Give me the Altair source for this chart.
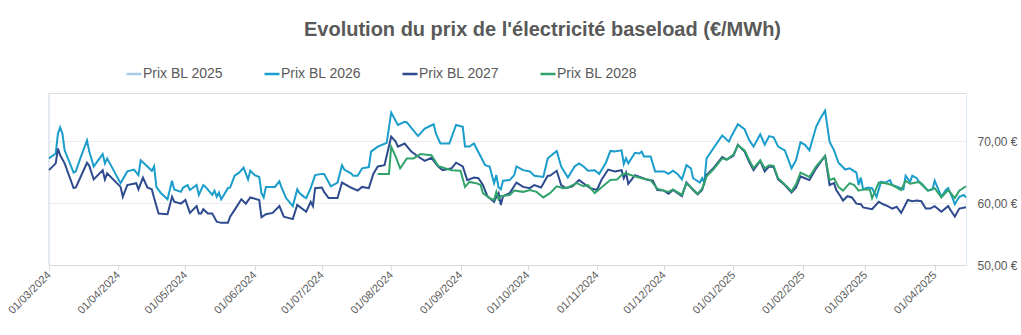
import altair as alt
import pandas as pd

series_names = ["Prix BL 2025", "Prix BL 2026", "Prix BL 2027", "Prix BL 2028"]
series_colors = ["#a9cce9", "#1a9dcb", "#2e4b8f", "#33a36c"]

# Prix BL 2026 (€/MWh)
dates_2026 = ["2024-03-01","2024-03-04","2024-03-05","2024-03-06","2024-03-07","2024-03-08","2024-03-12","2024-03-13","2024-03-15","2024-03-18","2024-03-19","2024-03-21","2024-03-22","2024-03-25","2024-03-26","2024-03-27","2024-04-02","2024-04-05","2024-04-08","2024-04-10","2024-04-11","2024-04-14","2024-04-16","2024-04-17","2024-04-18","2024-04-20","2024-04-23","2024-04-25","2024-04-26","2024-04-29","2024-04-30","2024-05-02","2024-05-03","2024-05-06","2024-05-07","2024-05-09","2024-05-10","2024-05-13","2024-05-14","2024-05-15","2024-05-16","2024-05-17","2024-05-20","2024-05-21","2024-05-23","2024-05-25","2024-05-27","2024-05-29","2024-05-30","2024-06-01","2024-06-03","2024-06-04","2024-06-05","2024-06-06","2024-06-10","2024-06-12","2024-06-13","2024-06-15","2024-06-18","2024-06-20","2024-06-21","2024-06-23","2024-06-24","2024-06-26","2024-06-28","2024-07-01","2024-07-02","2024-07-05","2024-07-08","2024-07-10","2024-07-11","2024-07-14","2024-07-15","2024-07-17","2024-07-19","2024-07-22","2024-07-23","2024-07-26","2024-07-28","2024-07-30","2024-08-01","2024-08-04","2024-08-07","2024-08-08","2024-08-13","2024-08-16","2024-08-20","2024-08-21","2024-08-23","2024-08-27","2024-08-30","2024-09-02","2024-09-03","2024-09-05","2024-09-07","2024-09-10","2024-09-12","2024-09-14","2024-09-16","2024-09-17","2024-09-18","2024-09-19","2024-09-20","2024-09-23","2024-09-25","2024-09-26","2024-09-29","2024-10-02","2024-10-04","2024-10-08","2024-10-10","2024-10-11","2024-10-14","2024-10-16","2024-10-17","2024-10-19","2024-10-22","2024-10-24","2024-10-26","2024-10-28","2024-10-31","2024-11-02","2024-11-05","2024-11-07","2024-11-09","2024-11-12","2024-11-13","2024-11-14","2024-11-15","2024-11-18","2024-11-20","2024-11-21","2024-11-22","2024-11-25","2024-11-27","2024-12-01","2024-12-03","2024-12-05","2024-12-07","2024-12-09","2024-12-11","2024-12-13","2024-12-14","2024-12-17","2024-12-18","2024-12-19","2024-12-20","2024-12-23","2024-12-27","2024-12-30","2024-12-31","2025-01-03","2025-01-06","2025-01-08","2025-01-10","2025-01-13","2025-01-15","2025-01-17","2025-01-19","2025-01-21","2025-01-24","2025-01-27","2025-01-29","2025-01-31","2025-02-02","2025-02-04","2025-02-07","2025-02-09","2025-02-11","2025-02-13","2025-02-15","2025-02-17","2025-02-20","2025-02-22","2025-02-25","2025-02-26","2025-02-27","2025-02-28","2025-03-02","2025-03-04","2025-03-06","2025-03-08","2025-03-10","2025-03-12","2025-03-13","2025-03-16","2025-03-18","2025-03-19","2025-03-21","2025-03-22","2025-03-24","2025-03-25","2025-03-26","2025-03-29","2025-03-31","2025-04-01","2025-04-04","2025-04-06","2025-04-07","2025-04-09","2025-04-10","2025-04-12","2025-04-14","2025-04-15"]
prix_2026 = [67.2,68.0,71.2,72.2,71.2,68.5,64.9,65.1,67.2,70.1,68.3,65.9,66.4,67.9,66.4,67.2,63.2,65.1,65.4,64.5,66.9,65.9,65.2,65.9,62.6,61.6,60.6,63.6,62.2,61.8,62.5,62.9,62.1,62.9,61.3,62.9,62.6,61.3,62.0,61.0,61.7,60.6,62.4,62.5,64.4,64.9,65.7,63.8,65.2,64.5,64.2,61.6,60.9,62.6,62.6,63.5,62.5,60.8,59.5,62.2,61.6,61.0,60.8,62.4,64.5,64.7,64.7,62.7,63.3,66.1,65.4,64.8,64.4,64.4,65.6,65.8,68.3,69.1,69.4,69.7,74.6,72.6,73.1,73.0,70.8,72.0,72.7,71.2,69.6,69.6,72.6,72.3,69.1,69.1,69.6,67.5,66.1,65.9,63.2,64.5,62.5,62.2,63.6,63.7,64.5,65.9,65.3,65.1,64.4,64.2,67.2,67.5,68.4,65.9,65.3,64.1,65.9,66.4,65.9,65.2,65.3,64.7,66.5,68.4,68.3,68.5,66.3,67.2,66.4,68.1,68.0,68.3,67.5,67.5,65.1,65.1,64.7,65.2,64.7,63.8,66.1,65.6,64.0,63.3,64.0,63.3,67.2,68.8,70.9,69.9,70.7,72.7,71.9,70.2,69.1,71.1,69.4,70.8,70.6,69.1,68.5,65.6,66.9,69.8,69.4,68.5,72.3,73.7,74.9,69.9,68.5,66.5,65.4,65.6,64.9,62.9,64.1,62.2,62.5,62.4,61.0,63.4,63.3,63.7,62.9,62.5,62.2,64.4,63.4,64.4,64.0,63.4,63.2,62.0,62.2,63.6,61.0,62.1,62.4,60.8,59.8,61.0,61.3,60.9]

# Prix BL 2027 (€/MWh)
dates_2027 = ["2024-03-01","2024-03-04","2024-03-05","2024-03-06","2024-03-08","2024-03-12","2024-03-13","2024-03-18","2024-03-19","2024-03-21","2024-03-25","2024-03-26","2024-03-27","2024-04-02","2024-04-03","2024-04-05","2024-04-09","2024-04-10","2024-04-12","2024-04-14","2024-04-16","2024-04-17","2024-04-19","2024-04-23","2024-04-25","2024-04-26","2024-04-29","2024-05-01","2024-05-03","2024-05-06","2024-05-07","2024-05-08","2024-05-09","2024-05-11","2024-05-13","2024-05-15","2024-05-17","2024-05-20","2024-05-21","2024-05-23","2024-05-26","2024-05-28","2024-05-30","2024-06-03","2024-06-04","2024-06-06","2024-06-09","2024-06-12","2024-06-14","2024-06-18","2024-06-20","2024-06-24","2024-06-26","2024-06-27","2024-06-28","2024-07-01","2024-07-02","2024-07-04","2024-07-08","2024-07-10","2024-07-14","2024-07-17","2024-07-19","2024-07-22","2024-07-24","2024-07-26","2024-07-29","2024-08-01","2024-08-03","2024-08-04","2024-08-07","2024-08-10","2024-08-13","2024-08-16","2024-08-19","2024-08-22","2024-08-24","2024-08-28","2024-08-30","2024-09-02","2024-09-04","2024-09-07","2024-09-09","2024-09-11","2024-09-13","2024-09-16","2024-09-17","2024-09-18","2024-09-19","2024-09-20","2024-09-23","2024-09-26","2024-09-29","2024-10-02","2024-10-04","2024-10-07","2024-10-10","2024-10-11","2024-10-14","2024-10-16","2024-10-18","2024-10-21","2024-10-24","2024-10-27","2024-10-29","2024-11-01","2024-11-03","2024-11-06","2024-11-09","2024-11-12","2024-11-13","2024-11-14","2024-11-15","2024-11-18","2024-11-21","2024-11-23","2024-11-26","2024-11-28","2024-12-01","2024-12-03","2024-12-05","2024-12-09","2024-12-11","2024-12-14","2024-12-16","2024-12-18","2024-12-20","2024-12-23","2024-12-27","2024-12-29","2025-01-01","2025-01-03","2025-01-06","2025-01-08","2025-01-10","2025-01-13","2025-01-15","2025-01-17","2025-01-19","2025-01-21","2025-01-24","2025-01-27","2025-01-29","2025-01-31","2025-02-02","2025-02-04","2025-02-07","2025-02-11","2025-02-13","2025-02-15","2025-02-16","2025-02-18","2025-02-19","2025-02-21","2025-02-23","2025-02-25","2025-02-27","2025-02-28","2025-03-04","2025-03-07","2025-03-09","2025-03-11","2025-03-13","2025-03-15","2025-03-17","2025-03-20","2025-03-22","2025-03-24","2025-03-26","2025-03-28","2025-03-30","2025-04-01","2025-04-04","2025-04-07","2025-04-08","2025-04-10","2025-04-12","2025-04-15"]
prix_2027 = [65.3,66.4,68.8,67.7,66.4,62.4,62.5,66.5,66.0,63.8,65.3,63.8,64.8,62.6,61.0,62.9,63.2,62.2,64.1,62.5,62.2,60.8,58.3,58.2,61.0,60.2,59.9,60.5,58.4,59.5,58.3,58.3,59.0,58.3,58.3,57.0,56.8,56.8,57.8,58.9,60.6,59.9,60.9,60.5,57.7,58.2,58.4,59.5,57.8,57.4,59.7,58.6,60.2,59.5,62.4,62.5,61.8,60.8,60.8,63.3,62.5,62.0,62.6,62.4,64.7,65.9,66.1,70.7,69.9,69.1,69.6,68.3,67.5,66.8,67.3,65.9,65.3,65.6,66.5,65.9,63.7,64.1,64.0,62.9,61.1,60.2,61.0,61.6,59.7,61.1,61.6,63.3,62.6,62.4,62.9,62.5,64.4,64.4,65.2,62.9,62.4,62.7,63.7,62.9,62.4,62.1,63.7,65.4,65.1,65.3,64.0,64.9,63.1,64.5,64.1,63.8,63.6,62.1,62.0,61.5,62.1,61.1,63.3,62.1,61.4,62.1,64.5,65.6,67.4,67.0,67.6,69.4,68.3,66.7,65.3,66.8,65.1,65.9,65.8,63.8,62.9,61.7,62.5,64.3,64.0,63.7,65.6,67.6,62.9,63.2,62.1,61.0,60.4,61.1,60.9,59.9,59.8,59.3,59.0,60.2,59.8,59.5,59.1,59.4,58.4,60.5,60.3,60.4,60.3,59.1,59.1,59.5,58.6,59.5,58.9,57.8,59.1,59.3]

# Prix BL 2028 (€/MWh)
dates_2028 = ["2024-07-26","2024-07-31","2024-08-01","2024-08-03","2024-08-05","2024-08-08","2024-08-11","2024-08-14","2024-08-19","2024-08-22","2024-08-25","2024-08-28","2024-09-01","2024-09-03","2024-09-05","2024-09-08","2024-09-10","2024-09-11","2024-09-14","2024-09-16","2024-09-17","2024-09-18","2024-09-19","2024-09-23","2024-09-25","2024-09-29","2024-10-02","2024-10-05","2024-10-08","2024-10-11","2024-10-14","2024-10-17","2024-10-19","2024-10-23","2024-10-26","2024-10-28","2024-10-31","2024-11-03","2024-11-07","2024-11-10","2024-11-12","2024-11-14","2024-11-17","2024-11-21","2024-11-25","2024-11-28","2024-12-01","2024-12-03","2024-12-05","2024-12-09","2024-12-11","2024-12-14","2024-12-16","2024-12-18","2024-12-20","2024-12-23","2024-12-27","2024-12-29","2025-01-01","2025-01-03","2025-01-06","2025-01-08","2025-01-10","2025-01-13","2025-01-15","2025-01-17","2025-01-19","2025-01-21","2025-01-24","2025-01-27","2025-01-29","2025-01-31","2025-02-04","2025-02-07","2025-02-11","2025-02-13","2025-02-15","2025-02-17","2025-02-19","2025-02-22","2025-02-24","2025-02-26","2025-02-28","2025-03-03","2025-03-04","2025-03-07","2025-03-10","2025-03-13","2025-03-17","2025-03-19","2025-03-21","2025-03-25","2025-03-29","2025-04-01","2025-04-04","2025-04-07","2025-04-10","2025-04-12","2025-04-15"]
prix_2028 = [64.7,64.7,69.1,67.5,65.6,67.2,67.2,67.9,67.7,66.0,65.6,65.3,65.2,62.6,63.4,63.2,62.9,61.6,60.8,60.5,61.8,60.6,61.1,61.3,62.0,61.8,62.1,61.8,60.9,61.6,62.7,62.4,62.5,63.2,62.7,62.9,61.6,62.5,63.7,63.8,64.5,64.8,64.4,64.0,63.7,62.3,62.0,61.8,62.2,61.3,63.2,62.2,61.5,62.3,64.3,65.4,67.2,67.0,67.8,69.3,68.5,67.0,65.6,66.9,65.6,66.1,66.0,64.0,63.0,61.9,63.0,64.9,64.2,65.9,67.6,63.7,64.0,62.6,62.0,63.2,62.9,62.0,62.2,62.2,60.8,63.3,63.2,62.9,62.1,63.6,63.1,63.4,62.0,62.4,60.9,62.1,60.8,62.0,62.7]

y_ticks = [50, 60, 70]

rows = []
for name, ds, vs in [("Prix BL 2026", dates_2026, prix_2026),
                     ("Prix BL 2027", dates_2027, prix_2027),
                     ("Prix BL 2028", dates_2028, prix_2028)]:
    for d, v in zip(ds, vs):
        rows.append({"date": d, "prix": v, "serie": name})
df = pd.DataFrame(rows)

month_ticks = [alt.DateTime(year=2024 + (2 + i) // 12, month=(2 + i) % 12 + 1, date=1, utc=True) for i in range(14)]

TXT = "#595959"
FONT = "Liberation Sans"

lines = alt.Chart(df).mark_line(strokeWidth=2).encode(
    x=alt.X("date:T",
            scale=alt.Scale(type="utc",
                            domain=[alt.DateTime(year=2024, month=3, date=1, utc=True),
                                    alt.DateTime(year=2025, month=4, date=15, utc=True)]),
            axis=alt.Axis(values=month_ticks, format="%d/%m/%Y", labelAngle=-45,
                          labelAlign="right", labelBaseline="middle", labelPadding=3,
                          labelFontSize=11, labelColor=TXT, labelFont=FONT,
                          domainColor="#d9d9d9", tickColor="#d9d9d9", tickSize=5,
                          grid=False, labelOverlap=False),
            title=None),
    y=alt.Y("prix:Q",
            scale=alt.Scale(domain=[50, 77.75], nice=False, zero=False),
            axis=alt.Axis(orient="right", values=y_ticks,
                          labelExpr="replace(format(datum.value, '.2f'), '.', ',') + ' €'",
                          labelFontSize=12, labelColor=TXT, labelFont=FONT, labelPadding=11,
                          ticks=False, domainColor="#dce8f4", gridColor="#ececec"),
            title=None),
    color=alt.Color("serie:N",
                    scale=alt.Scale(domain=series_names, range=series_colors),
                    legend=alt.Legend(orient="none", legendX=76, legendY=-28,
                                      direction="horizontal", columns=4, gridAlign="all",
                                      columnPadding=35, symbolType="stroke",
                                      symbolStrokeWidth=2.5, symbolSize=225,
                                      labelOffset=0, labelFontSize=14, labelColor=TXT,
                                      labelFont=FONT, title=None)),
)

left_edge = alt.Chart(df).mark_rule(color="#e4e9f0", strokeWidth=1).encode(
    x=alt.value(0), y=alt.value(0), y2=alt.value(172))

chart = alt.layer(left_edge, lines).properties(
    width=917, height=172,
    autosize=alt.AutoSizeParams(type="none"),
    padding={"left": 49, "top": 93, "right": 55, "bottom": 70},
    title=alt.TitleParams(text="Evolution du prix de l'électricité baseload (€/MWh)",
                          fontSize=20, fontWeight="bold", color=TXT, font=FONT,
                          anchor="middle", frame="group", dx=35, offset=25),
).configure_view(stroke=None).configure(background="white")

chart.save("out.html", embed_options={"renderer": "svg", "actions": False})
